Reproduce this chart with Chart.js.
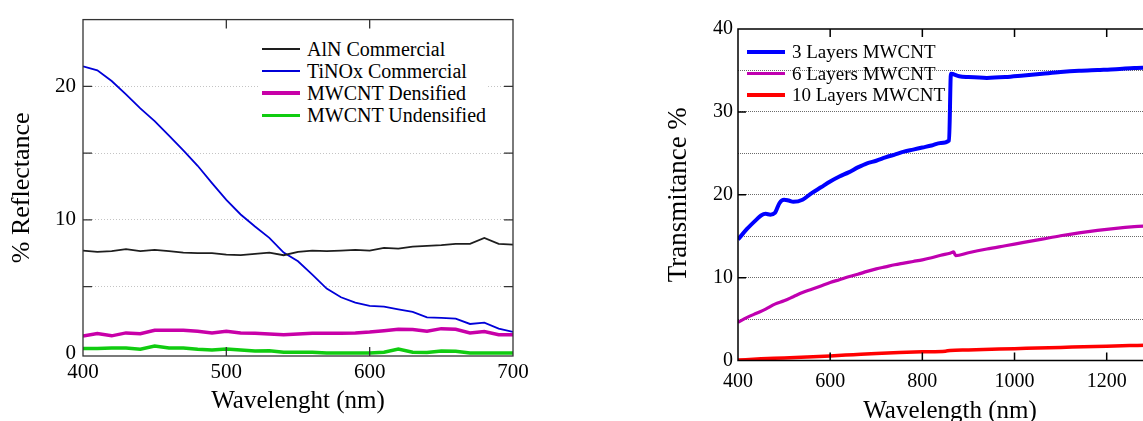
<!DOCTYPE html>
<html>
<head>
<meta charset="utf-8">
<script src="https://cdn.jsdelivr.net/npm/chart.js@4.4.1/dist/chart.umd.min.js"></script>
<style>
  html, body { margin: 0; padding: 0; background: #fff; }
  body { position: relative; width: 1143px; height: 421px; overflow: hidden;
         font-family: "Liberation Serif", "Times New Roman", serif; color: #000; }
  canvas { position: absolute; top: 0; }
  #refl { left: 0; }
  #trans { left: 640px; }
  .legend { position: absolute; box-sizing: border-box; }
  .legend .row { display: flex; align-items: center; white-space: nowrap; }
  .legend .swatch { display: inline-block; width: 38px; margin-right: 7px; }
  #reflLegend { left: 258px; top: 36px; width: 229px; height: 92px; padding: 2px 0 0 4px;
                background: #fff; font-size: 20px; }
  #reflLegend .row { height: 22.1px; }
  #transLegend { left: 747px; top: 41px; font-size: 19px; }
  #transLegend .row { height: 21.7px; }
</style>
</head>
<body>
<canvas id="refl" width="560" height="421"></canvas>
<canvas id="trans" width="530" height="440"></canvas>
<div id="reflLegend" class="legend"></div>
<div id="transLegend" class="legend"></div>
<script>
    /* Reflectance data (left chart) */

var wlRefl = [400, 410, 420, 430, 440, 450, 460, 470, 480, 490, 500, 510, 520, 530, 540, 550,
              560, 570, 580, 590, 600, 610, 620, 630, 640, 650, 660, 670, 680, 690, 700];
var alnCommercial = [7.7, 7.6, 7.65, 7.8, 7.65, 7.75, 7.65, 7.55, 7.5, 7.5, 7.4, 7.35, 7.45, 7.55, 7.35, 7.6,
                     7.7, 7.65, 7.7, 7.75, 7.7, 7.9, 7.85, 8.0, 8.05, 8.1, 8.2, 8.2, 8.65, 8.2, 8.15];
var tinoxCommercial = [21.5, 21.2, 20.4, 19.4, 18.35, 17.4, 16.3, 15.2, 14.05, 12.75, 11.5, 10.4, 9.5, 8.65, 7.55, 6.9,
                       5.9, 4.85, 4.2, 3.8, 3.55, 3.5, 3.3, 3.1, 2.7, 2.65, 2.6, 2.2, 2.3, 1.85, 1.6];
var mwcntDensified = [1.29, 1.48, 1.31, 1.53, 1.47, 1.73, 1.73, 1.73, 1.65, 1.53, 1.65, 1.53, 1.5, 1.44, 1.4, 1.44,
                      1.5, 1.5, 1.5, 1.53, 1.6, 1.7, 1.8, 1.78, 1.65, 1.85, 1.8, 1.53, 1.63, 1.4, 1.4];
var mwcntUndensified = [0.36, 0.36, 0.4, 0.4, 0.3, 0.55, 0.4, 0.4, 0.3, 0.25, 0.33, 0.25, 0.18, 0.2, 0.08, 0.08,
                        0.08, 0.02, 0.02, 0.02, 0.02, 0.08, 0.33, 0.08, 0.06, 0.18, 0.15, 0.02, 0.02, 0.02, 0.02];
var reflXTicks = [400, 500, 600, 700];
var reflYTicks = [0, 5, 10, 15, 20];

    /* Transmitance data (right chart) */

var wl3 = [400, 420, 440, 450, 460, 470, 480, 490, 500, 510, 520, 540, 560, 580, 600, 620, 640, 660, 680, 700,
           720, 740, 760, 780, 800, 820, 840, 858, 862, 880, 900, 940, 980, 1020, 1060, 1100, 1140, 1180, 1220,
           1260, 1300, 1320];
var layers3 = [14.6, 15.9, 17.0, 17.5, 17.7, 17.6, 17.8, 19.0, 19.4, 19.3, 19.15, 19.4, 20.2, 20.9, 21.6, 22.2, 22.7, 23.3, 23.8, 24.1,
               24.5, 24.85, 25.2, 25.45, 25.7, 25.95, 26.25, 26.55, 34.6, 34.3, 34.2, 34.1, 34.2, 34.4, 34.6, 34.8, 34.95, 35.05, 35.15,
               35.3, 35.4, 35.45];
var wl6 = [400, 420, 440, 460, 480, 500, 520, 540, 560, 580, 600, 620, 640, 660, 680, 700, 720, 740, 760, 780,
           800, 820, 840, 860, 868, 872, 900, 940, 980, 1020, 1060, 1100, 1140, 1180, 1220, 1260, 1300, 1320];
var layers6 = [4.6, 5.2, 5.7, 6.2, 6.8, 7.2, 7.7, 8.2, 8.6, 9.0, 9.4, 9.75, 10.1, 10.4, 10.75, 11.05, 11.3, 11.55, 11.75, 11.95,
               12.15, 12.4, 12.7, 12.95, 13.1, 12.65, 13.0, 13.45, 13.85, 14.25, 14.65, 15.05, 15.4, 15.7, 15.95, 16.15, 16.3, 16.4];
var wl10 = [400, 450, 500, 550, 600, 650, 700, 750, 800, 850, 860, 900, 950, 1000, 1050, 1100, 1150, 1200, 1250, 1300, 1320];
var layers10 = [0.05, 0.2, 0.3, 0.42, 0.55, 0.7, 0.85, 0.97, 1.05, 1.13, 1.2, 1.27, 1.35, 1.43, 1.5, 1.58, 1.65, 1.73, 1.8, 1.87, 1.9];
var transXTicks = [400, 600, 800, 1000, 1200];
var transYTicks = [0, 5, 10, 15, 20, 25, 30, 35, 40];

function pairs(xs, ys) {
    return xs.map(function (x, i) { return {x: x, y: ys[i]}; });
}

    /* Box around the plot with inward tick marks */

var frame = {
    id: 'frame',
    afterDraw: function (chart, args, opts) {
        var ctx = chart.ctx, a = chart.chartArea, x = chart.scales.x, y = chart.scales.y;
        ctx.save();
        ctx.strokeStyle = opts.color;
        ctx.lineWidth = opts.width;
        ctx.strokeRect(a.left, a.top, a.right - a.left, a.bottom - a.top);
        ctx.beginPath();
        opts.xTicks.forEach(function (v) {
            var p = x.getPixelForValue(v);
            ctx.moveTo(p, a.bottom); ctx.lineTo(p, a.bottom - opts.len);
            ctx.moveTo(p, a.top); ctx.lineTo(p, a.top + opts.len);
        });
        opts.yTicks.forEach(function (v) {
            var p = y.getPixelForValue(v);
            ctx.moveTo(a.left, p); ctx.lineTo(a.left + opts.len, p);
            ctx.moveTo(a.right, p); ctx.lineTo(a.right - opts.len, p);
        });
        ctx.stroke();
        ctx.restore();
    }
};

function htmlLegend(chart, id) {
    var box = document.getElementById(id);
    chart.data.datasets.forEach(function (ds) {
        var row = document.createElement('div');
        row.className = 'row';
        var sw = document.createElement('span');
        sw.className = 'swatch';
        sw.style.height = ds.borderWidth + 'px';
        sw.style.background = ds.borderColor;
        var txt = document.createElement('span');
        txt.textContent = ds.label;
        row.append(sw, txt);
        box.append(row);
    });
}

function plain(v) { return String(v); }

Chart.defaults.font.family = '"Liberation Serif", "Times New Roman", serif';
Chart.defaults.color = '#000';

    /* Left chart */

var reflChart = new Chart(document.getElementById('refl'), {
    type: 'line',
    data: {
        datasets: [
            {label: 'AlN Commercial', data: pairs(wlRefl, alnCommercial), borderColor: '#1e1e1e', borderWidth: 1.8},
            {label: 'TiNOx Commercial', data: pairs(wlRefl, tinoxCommercial), borderColor: '#0000d8', borderWidth: 1.8},
            {label: 'MWCNT Densified', data: pairs(wlRefl, mwcntDensified), borderColor: '#c800a8', borderWidth: 3.5},
            {label: 'MWCNT Undensified', data: pairs(wlRefl, mwcntUndensified), borderColor: '#10cc10', borderWidth: 3.5}
        ]
    },
    options: {
        responsive: false,
        animation: false,
        events: [],
        layout: {padding: {left: 0, right: 47, top: 15, bottom: 0}},
        elements: {point: {radius: 0}, line: {tension: 0}},
        plugins: {
            legend: {display: false},
            tooltip: {enabled: false},
            frame: {color: '#333', width: 1.3, len: 9, xTicks: [500, 600], yTicks: [5, 10, 15, 20]}
        },
        scales: {
            x: {
                type: 'linear', min: 400, max: 700,
                afterBuildTicks: function (s) { s.ticks = reflXTicks.map(function (v) { return {value: v}; }); },
                afterFit: function (s) { s.height = 65; },
                grid: {display: false, drawTicks: false},
                border: {display: false},
                ticks: {font: {size: 21}, padding: 4, maxRotation: 0, autoSkip: false, callback: plain},
                title: {display: true, text: 'Wavelenght (nm)', font: {size: 25}, padding: {top: 0, bottom: 5}}
            },
            y: {
                min: -0.2, max: 25,
                afterBuildTicks: function (s) { s.ticks = reflYTicks.map(function (v) { return {value: v}; }); },
                afterFit: function (s) { s.width = 83; },
                grid: {
                    color: function (c) { return c.tick && c.tick.value > 0 ? '#c4c4c4' : 'rgba(0,0,0,0)'; },
                    drawTicks: false, lineWidth: 1
                },
                border: {display: false, dash: [1, 2]},
                ticks: {
                    font: {size: 21}, padding: 7, autoSkip: false,
                    callback: function (v) { return v % 10 === 0 ? String(v) : ''; }
                },
                title: {display: true, text: '% Reflectance', font: {size: 26}, padding: {top: 7, bottom: 0}}
            }
        }
    },
    plugins: [frame]
});
htmlLegend(reflChart, 'reflLegend');

    /* Right chart */

var transChart = new Chart(document.getElementById('trans'), {
    type: 'line',
    data: {
        datasets: [
            {label: '3 Layers MWCNT', data: pairs(wl3, layers3), borderColor: '#0000ff', borderWidth: 4},
            {label: '6 Layers MWCNT', data: pairs(wl6, layers6), borderColor: '#c000b0', borderWidth: 3.2},
            {label: '10 Layers MWCNT', data: pairs(wl10, layers10), borderColor: '#ff0000', borderWidth: 3.5}
        ]
    },
    options: {
        responsive: false,
        animation: false,
        events: [],
        layout: {padding: {left: 0, right: 8, top: 29, bottom: 0}},
        elements: {point: {radius: 0}, line: {cubicInterpolationMode: 'monotone'}},
        plugins: {
            legend: {display: false},
            tooltip: {enabled: false},
            frame: {color: '#000', width: 1.5, len: 8, xTicks: [600, 800, 1000, 1200], yTicks: [10, 20, 30]}
        },
        scales: {
            x: {
                type: 'linear', min: 400, max: 1320,
                afterBuildTicks: function (s) { s.ticks = transXTicks.map(function (v) { return {value: v}; }); },
                afterFit: function (s) { s.height = 79.5; },
                grid: {display: false, drawTicks: false},
                border: {display: false},
                ticks: {font: {size: 20}, padding: 9, maxRotation: 0, autoSkip: false, callback: plain},
                title: {display: true, text: 'Wavelength (nm)', font: {size: 25}, padding: {top: 0, bottom: 14}}
            },
            y: {
                min: 0, max: 40,
                afterBuildTicks: function (s) { s.ticks = transYTicks.map(function (v) { return {value: v}; }); },
                afterFit: function (s) { s.width = 98; },
                grid: {
                    color: function (c) { return c.tick && c.tick.value > 0 && c.tick.value < 40 ? '#6a6a6a' : 'rgba(0,0,0,0)'; },
                    drawTicks: false, lineWidth: 1
                },
                border: {display: false, dash: [1, 1]},
                ticks: {
                    font: {size: 20}, padding: 5, autoSkip: false,
                    callback: function (v) { return v % 10 === 0 ? String(v) : ''; }
                },
                title: {display: true, text: 'Transmitance %', font: {size: 27}, padding: {top: 23, bottom: 0}}
            }
        }
    },
    plugins: [frame]
});
htmlLegend(transChart, 'transLegend');
</script>
</body>
</html>
